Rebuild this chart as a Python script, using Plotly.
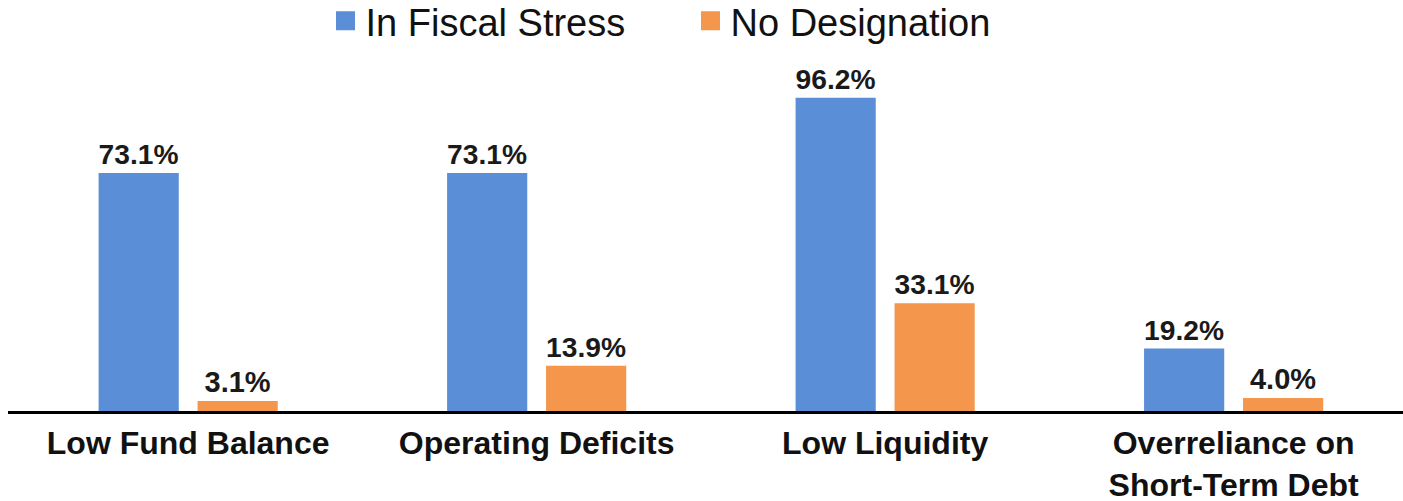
import plotly.graph_objects as go

# Data
categories = ["Low Fund Balance", "Operating Deficits", "Low Liquidity",
              "Overreliance on<br>Short-Term Debt"]
fiscal_stress = [73.1, 73.1, 96.2, 19.2]
no_designation = [3.1, 13.9, 33.1, 4.0]
series_names = ["In Fiscal Stress", "No Designation"]

BLUE = "#5A8ED6"
ORANGE = "#F4964B"
FONT = "Arial, Liberation Sans, sans-serif"

fig = go.Figure()

for name, values, color in [(series_names[0], fiscal_stress, BLUE),
                            (series_names[1], no_designation, ORANGE)]:
    fig.add_trace(go.Bar(
        x=categories,
        y=values,
        name=name,
        marker=dict(color=color, line=dict(width=0)),
        texttemplate="%{y:.1f}%",
        textposition="outside",
        textfont=dict(family=FONT, size=29, color="#1a1a1a", weight="bold"),
        cliponaxis=False,
        showlegend=False,
    ))
    # legend-only entry so the swatch can be drawn larger
    fig.add_trace(go.Scatter(
        x=[None], y=[None], mode="markers", name=name,
        marker=dict(symbol="square", size=16, color=color,
                    line=dict(color=color, width=3)),
    ))

fig.update_layout(
    width=1403,
    height=501,
    margin=dict(l=8, r=0, t=60, b=90),
    paper_bgcolor="white",
    plot_bgcolor="white",
    barmode="group",
    bargap=0.432,
    bargroupgap=0.19,
    font=dict(family=FONT, color="#111111"),
    legend=dict(
        orientation="h",
        xref="container", yref="container",
        x=0.232, xanchor="left",
        y=0.958, yanchor="middle",
        font=dict(family=FONT, size=38, color="#111111"),
        entrywidth=320, entrywidthmode="pixels",
        itemwidth=30,
    ),
    xaxis=dict(
        range=[-0.517, 3.486],
        automargin=False,
        showline=True, linecolor="black", linewidth=3,
        showgrid=False, ticks="",
        ticklabelstandoff=2,
        tickfont=dict(family=FONT, size=32, color="#111111", weight="bold"),
    ),
    yaxis=dict(
        range=[0, 107.8],
        automargin=False,
        visible=False, showgrid=False, zeroline=False,
    ),
)

# drop the default page margin so the figure sits at the window's corner
fig.write_html(
    "out.html",
    config={"displayModeBar": False},
    post_script="document.body.style.margin='0';document.body.style.overflow='hidden';",
)
